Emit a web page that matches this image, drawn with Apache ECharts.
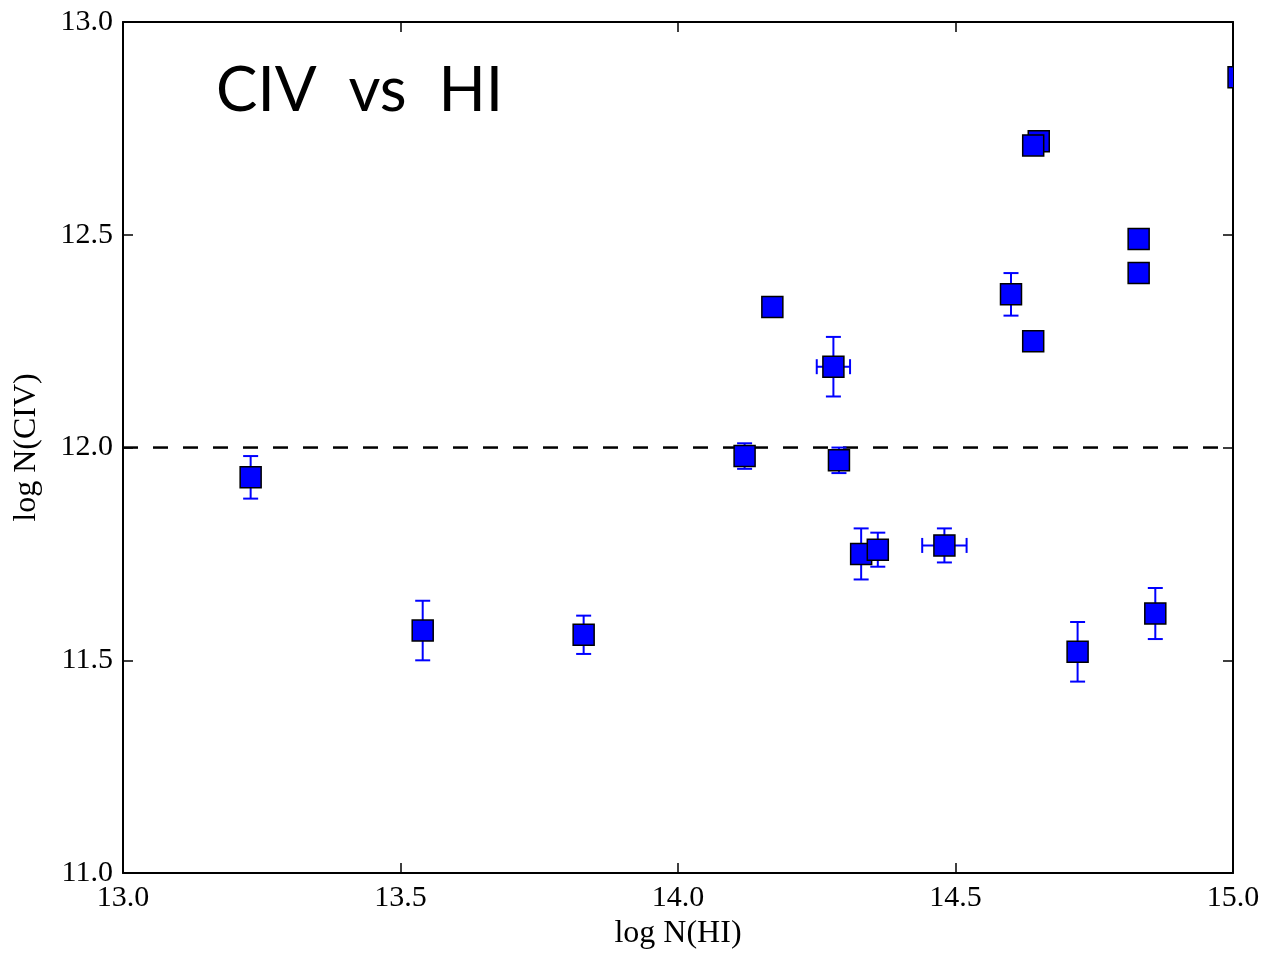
<!DOCTYPE html>
<html>
<head>
<meta charset="utf-8">
<title>CIV vs HI</title>
<script src="https://cdn.jsdelivr.net/npm/echarts@6/dist/echarts.min.js"></script>
<style>
  html, body { margin: 0; padding: 0; background: #fff; overflow: hidden; }
  #chart { width: 1263px; height: 955px; }
</style>
</head>
<body>
<div id="chart"></div>
<script>
// Column densities: log N(HI) and log N(CIV), with 1-sigma errors (0 = none drawn)
const hiVals  = [13.23, 13.54, 13.83, 14.12, 14.17, 14.28, 14.29, 14.33, 14.36, 14.48, 14.60, 14.65, 14.64, 14.64, 14.83, 14.83, 14.72, 14.86, 15.01];
const civVals = [11.93, 11.57, 11.56, 11.98, 12.33, 12.19, 11.97, 11.75, 11.76, 11.77, 12.36, 12.72, 12.71, 12.25, 12.49, 12.41, 11.52, 11.61, 12.87];
const civErr  = [0.05, 0.07, 0.045, 0.03, 0, 0.07, 0.03, 0.06, 0.04, 0.04, 0.05, 0, 0, 0, 0, 0, 0.07, 0.06, 0];
const hiErr   = [0, 0, 0, 0, 0, 0.03, 0, 0, 0, 0.04, 0, 0, 0, 0, 0, 0, 0, 0, 0];

const xTicks = [13.0, 13.5, 14.0, 14.5, 15.0];
const yTicks = [11.0, 11.5, 12.0, 12.5, 13.0];
const threshold = 12.0;
const panelTitle = 'CIV  vs  HI';

const serif = '"Liberation Serif", "DejaVu Serif", serif';
const rows = hiVals.map((x, i) => [x, civVals[i], hiErr[i], civErr[i]]);

const baseAxis = (ticks, pos, showLabel) => ({
  type: 'value',
  position: pos,
  min: ticks[0],
  max: ticks[ticks.length - 1],
  interval: ticks[1] - ticks[0],
  axisLine: { show: true, onZero: false, lineStyle: { color: '#000', width: 2 } },
  axisTick: { show: true, inside: true, length: 10, lineStyle: { color: '#000', width: 1.5 } },
  axisLabel: {
    show: showLabel, color: '#000', fontFamily: serif, fontSize: 30, margin: 10,
    formatter: v => v.toFixed(1)
  },
  splitLine: { show: false }
});

const xBottom = Object.assign(baseAxis(xTicks, 'bottom', true), {
  name: 'log N(HI)', nameLocation: 'middle', nameGap: 43,
  nameTextStyle: { color: '#000', fontFamily: serif, fontSize: 32 }
});
const xTop = baseAxis(xTicks, 'top', false);
const yLeft = Object.assign(baseAxis(yTicks, 'left', true), {
  name: 'log N(CIV)', nameLocation: 'middle', nameGap: 80, nameRotate: 90,
  nameTextStyle: { color: '#000', fontFamily: serif, fontSize: 32 }
});
const yRight = baseAxis(yTicks, 'right', false);

const blue = '#0000ff';
const cap = 7.5;

const chart = echarts.init(document.getElementById('chart'), null, { renderer: 'canvas', width: 1263, height: 955 });
chart.setOption({
  animation: false,
  backgroundColor: '#fff',
  grid: { left: 123, width: 1110, top: 22, height: 858, containLabel: false },
  xAxis: [xBottom, xTop],
  yAxis: [yLeft, yRight],
  graphic: [{
    type: 'text', left: 216, top: 60, z: 100,
    style: { text: panelTitle, fill: '#000', font: '400 62px Lato, "Open Sans", sans-serif' }
  }],
  series: [
    {
      // dashed reference level
      type: 'line',
      data: [[xTicks[0], threshold], [xTicks[xTicks.length - 1], threshold]],
      symbol: 'none',
      lineStyle: { color: '#000', width: 2.5, type: [15, 15] },
      z: 1
    },
    {
      // error bars with caps
      type: 'custom',
      clip: true,
      z: 2,
      data: rows,
      renderItem: (params, api) => {
        const x = api.value(0), y = api.value(1), ex = api.value(2), ey = api.value(3);
        const children = [];
        const ls = { stroke: blue, lineWidth: 2, fill: null };
        if (ey > 0) {
          const top = api.coord([x, y + ey]), bot = api.coord([x, y - ey]);
          children.push({ type: 'line', shape: { x1: top[0], y1: top[1], x2: bot[0], y2: bot[1] }, style: ls });
          children.push({ type: 'line', shape: { x1: top[0] - cap, y1: top[1], x2: top[0] + cap, y2: top[1] }, style: ls });
          children.push({ type: 'line', shape: { x1: bot[0] - cap, y1: bot[1], x2: bot[0] + cap, y2: bot[1] }, style: ls });
        }
        if (ex > 0) {
          const l = api.coord([x - ex, y]), r = api.coord([x + ex, y]);
          children.push({ type: 'line', shape: { x1: l[0], y1: l[1], x2: r[0], y2: r[1] }, style: ls });
          children.push({ type: 'line', shape: { x1: l[0], y1: l[1] - cap, x2: l[0], y2: l[1] + cap }, style: ls });
          children.push({ type: 'line', shape: { x1: r[0], y1: r[1] - cap, x2: r[0], y2: r[1] + cap }, style: ls });
        }
        return { type: 'group', children };
      }
    },
    {
      // square markers
      type: 'custom',
      clip: true,
      z: 3,
      data: rows,
      renderItem: (params, api) => {
        const p = api.coord([api.value(0), api.value(1)]);
        const s = 21;
        return {
          type: 'rect',
          shape: { x: p[0] - s / 2, y: p[1] - s / 2, width: s, height: s },
          style: { fill: blue, stroke: '#000', lineWidth: 1.5 }
        };
      }
    }
  ]
});
</script>
</body>
</html>
